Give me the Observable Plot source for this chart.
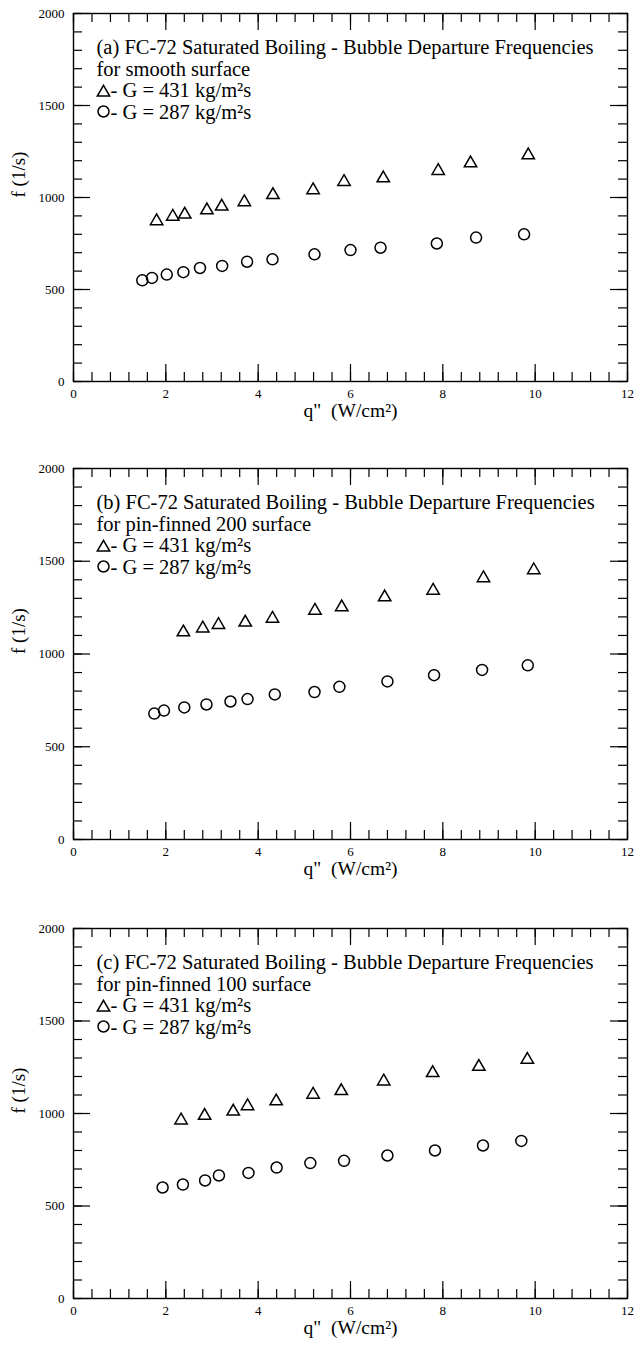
<!DOCTYPE html>
<html>
<head>
<meta charset="utf-8">
<script src="https://cdn.jsdelivr.net/npm/d3@7"></script>
<script src="https://cdn.jsdelivr.net/npm/@observablehq/plot@0.6"></script>
<style>
  body { margin: 0; background: #fff; }
  #chart svg { display: block; font-family: 'Liberation Serif', 'Times New Roman', serif; }
  #chart svg text { font-family: 'Liberation Serif', 'Times New Roman', serif; }
</style>
</head>
<body>
<div id="chart"></div>
<script>
// ---- tick labels ----
const xTicks = [0, 2, 4, 6, 8, 10, 12];
const yTicks = [0, 500, 1000, 1500, 2000];
const xMinorTicks = d3.range(31).map(i => +(i * 0.4).toFixed(1));
const yMinorTicks = d3.range(21).map(i => i * 100);

// ---- texts ----
const panelTags = ["(a)", "(b)", "(c)"];
const surfaces = ["smooth surface", "pin-finned 200 surface", "pin-finned 100 surface"];
const titleText = "FC-72 Saturated Boiling - Bubble Departure Frequencies";
const seriesLabels = ["- G = 431 kg/m\u00b2s", "- G = 287 kg/m\u00b2s"];
const xLabel = "q\"\u00a0 (W/cm\u00b2)";
const yLabel = "f (1/s)";

// ---- data: (a) smooth surface ----
const qTriA = [1.80, 2.15, 2.41, 2.89, 3.21, 3.70, 4.32, 5.19, 5.86, 6.71, 7.90, 8.60, 9.85];
const fTriA = [872, 896, 908, 931, 951, 975, 1014, 1040, 1085, 1105, 1145, 1186, 1230];
const qCirA = [1.49, 1.70, 2.02, 2.38, 2.74, 3.22, 3.76, 4.31, 5.22, 6.00, 6.65, 7.87, 8.72, 9.76];
const fCirA = [550, 563, 581, 594, 617, 628, 651, 664, 691, 714, 727, 750, 782, 800];

// ---- data: (b) pin-finned 200 surface ----
const qTriB = [2.38, 2.80, 3.14, 3.72, 4.31, 5.23, 5.81, 6.74, 7.79, 8.88, 9.97];
const fTriB = [1117, 1138, 1157, 1170, 1191, 1234, 1252, 1306, 1342, 1409, 1452];
const qCirB = [1.75, 1.96, 2.40, 2.88, 3.40, 3.77, 4.36, 5.22, 5.76, 6.80, 7.81, 8.85, 9.84];
const fCirB = [679, 695, 712, 728, 744, 757, 782, 795, 823, 852, 886, 914, 939];

// ---- data: (c) pin-finned 100 surface ----
const qTriC = [2.33, 2.84, 3.46, 3.77, 4.39, 5.19, 5.80, 6.72, 7.78, 8.78, 9.83];
const fTriC = [963, 988, 1011, 1040, 1066, 1102, 1122, 1174, 1219, 1253, 1291];
const qCirC = [1.93, 2.37, 2.85, 3.15, 3.79, 4.40, 5.13, 5.86, 6.80, 7.83, 8.87, 9.70];
const fCirC = [600, 616, 638, 665, 679, 708, 732, 744, 773, 800, 827, 852];

const toPts = (qs, fs) => qs.map((q, i) => ({q, f: fs[i]}));

const panels = [
  {tag: panelTags[0], surface: surfaces[0], tri: toPts(qTriA, fTriA), cir: toPts(qCirA, fCirA), height: 455, mt: 13, mb: 74},
  {tag: panelTags[1], surface: surfaces[1], tri: toPts(qTriB, fTriB), cir: toPts(qCirB, fCirB), height: 457, mt: 13, mb: 73},
  {tag: panelTags[2], surface: surfaces[2], tri: toPts(qTriC, fTriC), cir: toPts(qCirC, fCirC), height: 433, mt: 16, mb: 47}
];

const W = 635, ML = 73, MR = 8;
const plotW = W - ML - MR;
const majorLen = 17, minorLen = 9;
const font = "'Liberation Serif', 'Times New Roman', serif";
const legendSize = 20.5;

function makePanel(p) {
  const plotH = p.height - p.mt - p.mb;
  const tickStyle = {stroke: "black", strokeWidth: 1.2};
  return Plot.plot({
    width: W,
    height: p.height,
    marginLeft: ML,
    marginRight: MR,
    marginTop: p.mt,
    marginBottom: p.mb,
    style: {fontFamily: font, fontSize: "13px", color: "black", background: "white"},
    x: {domain: [0, 12], label: null},
    y: {domain: [0, 2000], label: null},
    marks: [
      // minor ticks (inward, all four sides)
      Plot.tickX(xMinorTicks, {x: d => d, insetTop: plotH - minorLen, ...tickStyle}),
      Plot.tickX(xMinorTicks, {x: d => d, insetBottom: plotH - minorLen, ...tickStyle}),
      Plot.tickY(yMinorTicks, {y: d => d, insetRight: plotW - minorLen, ...tickStyle}),
      Plot.tickY(yMinorTicks, {y: d => d, insetLeft: plotW - minorLen, ...tickStyle}),
      // major ticks
      Plot.tickX(xTicks, {x: d => d, insetTop: plotH - majorLen, ...tickStyle}),
      Plot.tickX(xTicks, {x: d => d, insetBottom: plotH - majorLen, ...tickStyle}),
      Plot.tickY(yTicks, {y: d => d, insetRight: plotW - majorLen, ...tickStyle}),
      Plot.tickY(yTicks, {y: d => d, insetLeft: plotW - majorLen, ...tickStyle}),
      Plot.frame({stroke: "black", strokeWidth: 1.4}),
      // tick labels
      Plot.axisX({ticks: xTicks, tickSize: 0, tickPadding: 7, tickFormat: d => String(d), label: null, fontSize: 13, fontFamily: font, fontVariant: "normal"}),
      Plot.axisY({ticks: yTicks, tickSize: 0, tickPadding: 9, tickFormat: d => String(d), label: null, fontSize: 13, fontFamily: font, fontVariant: "normal"}),
      // axis titles
      Plot.text([xLabel], {frameAnchor: "bottom", dy: 35, fontSize: 19.5, fill: "black", fontFamily: font}),
      Plot.text([yLabel], {frameAnchor: "left", dx: -55, rotate: -90, fontSize: 19, fill: "black", fontFamily: font}),
      // data
      Plot.dot(p.tri, {x: "q", y: "f", symbol: "triangle", r: 4.6, stroke: "black", strokeWidth: 1.5, fill: "none"}),
      Plot.dot(p.cir, {x: "q", y: "f", symbol: "circle", r: 5.5, stroke: "black", strokeWidth: 1.5, fill: "none"}),
      // in-plot legend
      Plot.text([p.tag + " " + titleText], {frameAnchor: "top-left", dx: 23, dy: 40, textAnchor: "start", lineAnchor: "bottom", fontSize: legendSize, fill: "black", fontFamily: font}),
      Plot.text(["for " + p.surface], {frameAnchor: "top-left", dx: 23, dy: 62, textAnchor: "start", lineAnchor: "bottom", fontSize: legendSize, fill: "black", fontFamily: font}),
      Plot.dot([0], {frameAnchor: "top-left", dx: 30, dy: 79, symbol: "triangle", r: 4.6, stroke: "black", strokeWidth: 1.5, fill: "none"}),
      Plot.text([seriesLabels[0]], {frameAnchor: "top-left", dx: 37, dy: 83, textAnchor: "start", lineAnchor: "bottom", fontSize: legendSize, fill: "black", fontFamily: font}),
      Plot.dot([0], {frameAnchor: "top-left", dx: 30, dy: 98, symbol: "circle", r: 5.5, stroke: "black", strokeWidth: 1.5, fill: "none"}),
      Plot.text([seriesLabels[1]], {frameAnchor: "top-left", dx: 37, dy: 105, textAnchor: "start", lineAnchor: "bottom", fontSize: legendSize, fill: "black", fontFamily: font})
    ]
  });
}

const root = document.getElementById("chart");
for (const p of panels) root.appendChild(makePanel(p));
</script>
</body>
</html>
